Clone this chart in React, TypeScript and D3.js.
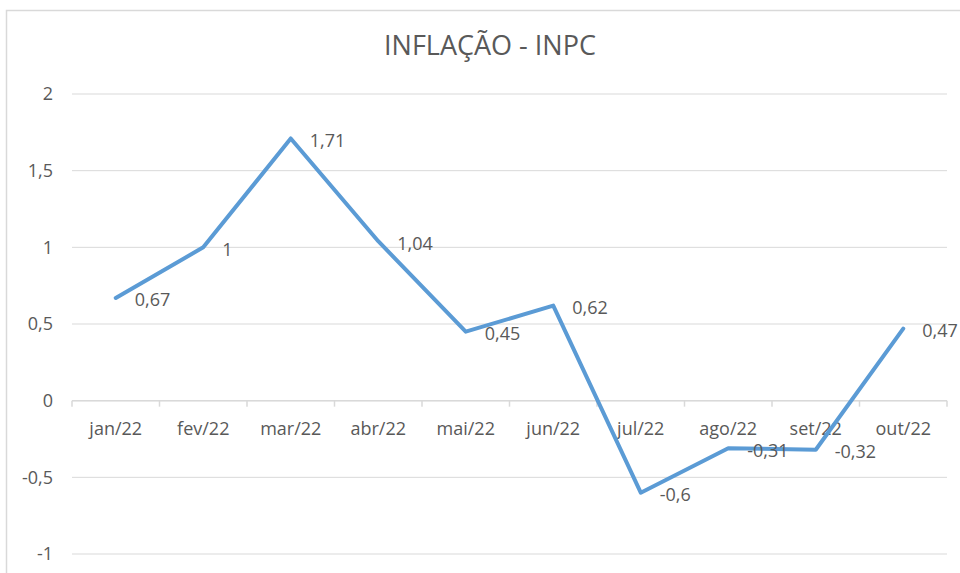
import React from "react";
import * as d3 from "d3";

const months = ["jan/22", "fev/22", "mar/22", "abr/22", "mai/22", "jun/22", "jul/22", "ago/22", "set/22", "out/22"];
const inpc = [0.67, 1, 1.71, 1.04, 0.45, 0.62, -0.6, -0.31, -0.32, 0.47];
const yTicks = [-1, -0.5, 0, 0.5, 1, 1.5, 2];
const title = "INFLAÇÃO - INPC";

const WIDTH = 960;
const HEIGHT = 573;
const MARGINS = { left: 72, right: 13, top: 94, bottom: 19 };
const FONT = "'Open Sans', sans-serif";
const TEXT = "#595959";
const GRID = "#d9d9d9";

// brazilian decimal comma
const fmt = (v: number) => String(v).replace(".", ",");

export default function App() {
  const x = d3.scaleBand().domain(months).range([MARGINS.left, WIDTH - MARGINS.right]).padding(0);
  const y = d3.scaleLinear().domain([-1, 2]).range([HEIGHT - MARGINS.bottom, MARGINS.top]);
  const cx = (m: string) => (x(m) as number) + x.bandwidth() / 2;

  const line = d3.line<number>()
    .x((d, i) => cx(months[i]))
    .y((d) => y(d));

  const y0 = y(0);

  return (
    <svg width={WIDTH} height={HEIGHT} style={{ position: "fixed", left: 0, top: 0, background: "#fff" }}>
      <rect x={0} y={0} width={WIDTH} height={HEIGHT} fill="#fff" />
      {/* chart frame, cut off at right and bottom */}
      <rect x={6.5} y={10.5} width={WIDTH + 20} height={HEIGHT + 20} fill="none" stroke={GRID} strokeWidth={1.5} />

      <text x={490} y={55} textAnchor="middle" fontFamily={FONT} fontSize={27} fill={TEXT}>{title}</text>

      {/* gridlines */}
      {yTicks.map((t) => (
        <g key={t}>
          <line x1={MARGINS.left} x2={WIDTH - MARGINS.right} y1={y(t)} y2={y(t)} stroke={GRID} strokeWidth={1} />
          <text x={53} y={y(t)} dy="0.35em" textAnchor="end" fontFamily={FONT} fontSize={18} fill={TEXT}>{fmt(t)}</text>
        </g>
      ))}

      {/* category axis at zero */}
      <line x1={MARGINS.left} x2={WIDTH - MARGINS.right} y1={y0} y2={y0} stroke={GRID} strokeWidth={1.5} />
      {months.map((m) => (
        <line key={"t" + m} x1={x(m)} x2={x(m)} y1={y0} y2={y0 + 6} stroke={GRID} strokeWidth={1.5} />
      ))}
      <line x1={WIDTH - MARGINS.right} x2={WIDTH - MARGINS.right} y1={y0} y2={y0 + 6} stroke={GRID} strokeWidth={1.5} />
      {months.map((m) => (
        <text key={"l" + m} x={cx(m)} y={y0 + 28} dy="0.35em" textAnchor="middle" fontFamily={FONT} fontSize={18} fill={TEXT}>{m}</text>
      ))}

      <path d={line(inpc) || ""} fill="none" stroke="#5b9bd5" strokeWidth={4} strokeLinejoin="round" strokeLinecap="round" />

      {/* data labels to the right of each point */}
      {inpc.map((v, i) => (
        <text key={"d" + i} x={cx(months[i]) + 19} y={y(v) + 2} dy="0.35em" fontFamily={FONT} fontSize={18} fill={TEXT}>{fmt(v)}</text>
      ))}
    </svg>
  );
}
